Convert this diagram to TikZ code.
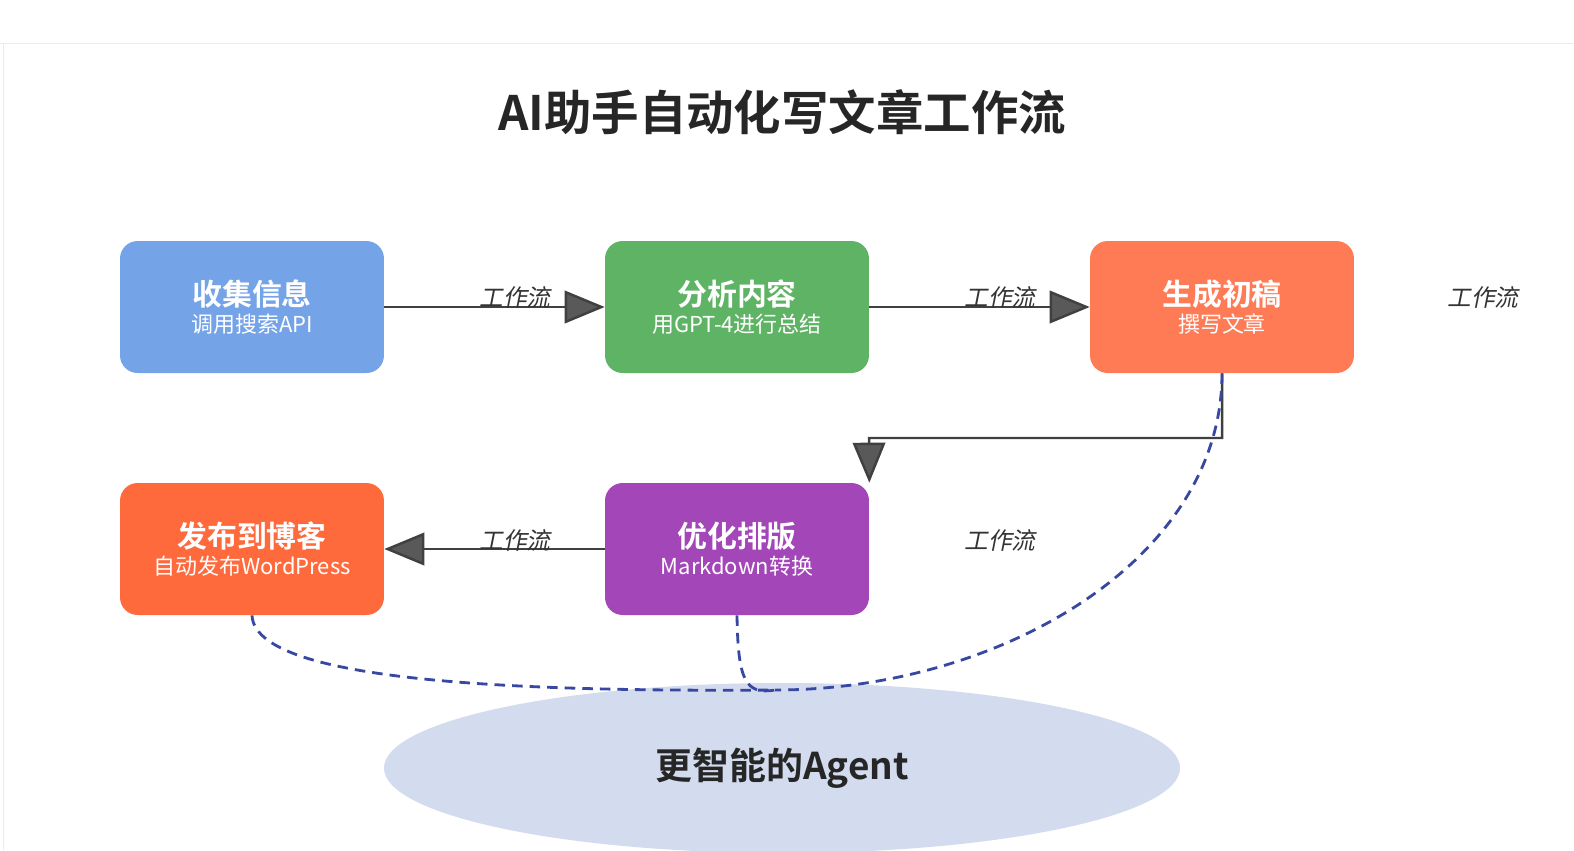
\documentclass[tikz,border=0pt]{standalone}
\usepackage{fontspec}
\setmainfont{Noto Sans CJK SC}
\newfontfamily\cjkb{Noto Sans CJK SC}[BoldFont={* Bold}]
\newfontfamily\cjki{Noto Sans CJK SC}[FakeSlant=0.2]
\usetikzlibrary{arrows.meta}
\definecolor{cblue}{HTML}{74A3E8}
\definecolor{cgreen}{HTML}{5FB365}
\definecolor{corange}{HTML}{FF7B55}
\definecolor{cred}{HTML}{FF6A3D}
\definecolor{cpurple}{HTML}{A347B8}
\definecolor{cell}{HTML}{D3DBEE}
\definecolor{cdash}{HTML}{3848A0}
\begin{document}
\begin{tikzpicture}[x=0.02cm,y=-0.02cm,
 box/.style={rounded corners=10pt,minimum width=5.28cm,minimum height=2.64cm,inner sep=0pt,text=white,align=center},
 flow/.style={draw=black!75,line width=1.4pt,-{Triangle[length=0.8cm,width=0.65cm,fill=black!65]}},
 dsh/.style={draw=cdash,line width=1.6pt,dash pattern=on 6pt off 4pt},
 lbl/.style={font=\cjki\fontsize{13.5}{15}\selectfont,text=black!80}]
\useasboundingbox (0,0) rectangle (1574,850);
\fill[white] (0,0) rectangle (1574,850);
\draw[black!8] (0,43) -- (1574,43);
\draw[black!8] (3,43) -- (3,850);
\node[font=\cjkb\bfseries\fontsize{27}{30}\selectfont,text=black!85] (title) at (782,112) {AI助手自动化写文章工作流};
\fill[cell] (782,768) ellipse [x radius=398, y radius=85];
\node[font=\cjkb\bfseries\fontsize{21}{24}\selectfont,text=black!85] (agent) at (782,768) {更智能的Agent};
\newcommand\bx[5]{\node[box,fill=#2] (#1) at #3 {{\cjkb\bfseries\fontsize{17}{20}\selectfont #4}\\[2pt]{\fontsize{12.5}{14}\selectfont #5}};}
\bx{a}{cblue}{(252,307)}{收集信息}{调用搜索API}
\bx{b}{cgreen}{(737,307)}{分析内容}{用GPT-4进行总结}
\bx{c}{corange}{(1222,307)}{生成初稿}{撰写文章}
\bx{d}{cred}{(252,549)}{发布到博客}{自动发布WordPress}
\bx{e}{cpurple}{(737,549)}{优化排版}{Markdown转换}
\draw[flow] (a.east) -- (b.west);
\draw[flow] (b.east) -- (c.west);
\draw[flow] (e.west) -- (d.east);
\coordinate (k1) at (1222,438);
\coordinate (k2) at (869,438);
\draw[flow] (c.south) -- (k1) -- (k2) -- (e.north east);
\node[lbl] (l1) at (515,297) {工作流};
\node[lbl] (l2) at (1000,297) {工作流};
\node[lbl] (l3) at (1483,297) {工作流};
\node[lbl] (l4) at (515,540) {工作流};
\node[lbl] (l5) at (1000,540) {工作流};
\coordinate (m) at (775,690);
\draw[dsh] (c.south) .. controls (1222,560) and (1000,690) .. (m);
\draw[dsh] (e.south) .. controls (738,680) and (745,695) .. (m);
\draw[dsh] (d.south) .. controls (255,680) and (500,692) .. (m);
\end{tikzpicture}
\end{document}
